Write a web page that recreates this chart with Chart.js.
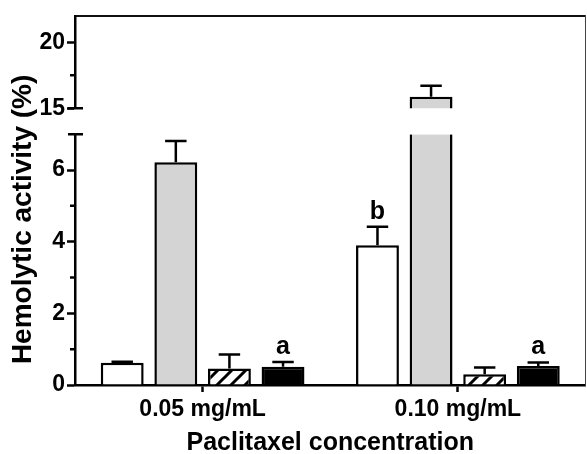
<!DOCTYPE html>
<html>
<head>
<meta charset="utf-8">
<script src="https://cdn.jsdelivr.net/npm/chart.js@4.4.1/dist/chart.umd.min.js"></script>
<style>
  html, body { margin: 0; padding: 0; background: #fff; }
  #wrap { width: 587px; height: 454px; }
</style>
</head>
<body>
<div id="wrap"><canvas id="hemolysis"></canvas></div>
<script>
// data
const categories = ['0.05 mg/mL', '0.10 mg/mL'];
const seriesNames = ['Group 1', 'Group 2', 'Group 3', 'Group 4'];
const whiteVals = [0.62, 3.90];
const whiteErr = [0.03, 0.52];
const grayVals = [6.22, 15.87];
const grayErr = [0.59, 0.83];
const hatchVals = [0.46, 0.30];
const hatchErr = [0.39, 0.19];
const blackVals = [0.51, 0.53];
const blackErr = [0.13, 0.10];
const whiteLetters = ['', 'b'];
const blackLetters = ['a', 'a'];

// broken y axis
const lowRange = [0, 7];
const highRange = [15, 22];
const lowTicks = [0, 2, 4, 6];
const highTicks = [15, 20];
const lowMinor = [1, 3, 5];
const highMinor = [17.5];

const FONT = "'Liberation Sans', Arial, sans-serif";
Chart.defaults.font.family = FONT;
Chart.defaults.color = '#000';

function hatchPattern() {
    const c = document.createElement('canvas');
    c.width = 14; c.height = 14;
    const g = c.getContext('2d');
    g.fillStyle = '#fff';
    g.fillRect(0, 0, 14, 14);
    g.strokeStyle = '#000';
    g.lineWidth = 3;
    g.beginPath();
    g.moveTo(0, 14); g.lineTo(14, 0);
    g.moveTo(-2, 2); g.lineTo(2, -2);
    g.moveTo(12, 16); g.lineTo(16, 12);
    g.stroke();
    return g.createPattern(c, 'repeat');
}

const lowGray = grayVals.map(v => Math.min(v, lowRange[1]));
const highGray = grayVals.map(v => v > highRange[0] ? v : null);
const grayCut = grayVals.map(v => v > lowRange[1]);

const errorBars = {
    id: 'errorBars',
    afterDatasetsDraw(chart) {
        const ctx = chart.ctx;
        ctx.save();
        ctx.strokeStyle = '#000';
        ctx.lineWidth = 2.5;
        chart.data.datasets.forEach((ds, i) => {
            const meta = chart.getDatasetMeta(i);
            const ys = chart.scales[meta.yAxisID];
            meta.data.forEach((bar, j) => {
                const v = ds.data[j];
                if (v == null || !ds.errors) return;
                if (ds.cut && ds.cut[j]) return;
                const top = ys.getPixelForValue(v + ds.errors[j]);
                const half = bar.width * 0.25;
                ctx.beginPath();
                ctx.moveTo(bar.x, bar.y);
                ctx.lineTo(bar.x, top);
                ctx.moveTo(bar.x - half, top);
                ctx.lineTo(bar.x + half, top);
                ctx.stroke();
                if (ds.letters && ds.letters[j]) {
                    ctx.fillStyle = '#000';
                    ctx.font = 'bold 25px ' + FONT;
                    ctx.textAlign = 'center';
                    ctx.textBaseline = 'alphabetic';
                    ctx.fillText(ds.letters[j], bar.x, top - 8);
                }
            });
        });
        ctx.restore();
    }
};

// minor ticks, break caps and the y title
const axisExtras = {
    id: 'axisExtras',
    afterDraw(chart) {
        const ctx = chart.ctx;
        const x0 = chart.chartArea.left;
        const lo = chart.scales.yLow, hi = chart.scales.yHigh;
        ctx.save();
        ctx.strokeStyle = '#000';
        ctx.lineWidth = 2.5;
        ctx.beginPath();
        lowMinor.forEach(v => { const y = lo.getPixelForValue(v); ctx.moveTo(x0 - 5, y); ctx.lineTo(x0, y); });
        highMinor.forEach(v => { const y = hi.getPixelForValue(v); ctx.moveTo(x0 - 5, y); ctx.lineTo(x0, y); });
        [lo.getPixelForValue(lowRange[1]), hi.getPixelForValue(highRange[0])].forEach(y => {
            ctx.moveTo(x0 - 7, y); ctx.lineTo(x0 + 8, y);
        });
        ctx.stroke();
        ctx.translate(23, (chart.chartArea.top + chart.chartArea.bottom) / 2 + 19);
        ctx.rotate(-Math.PI / 2);
        ctx.font = 'bold 28px ' + FONT;
        ctx.fillStyle = '#000';
        ctx.textAlign = 'center';
        ctx.textBaseline = 'middle';
        ctx.fillText('Hemolytic activity (%)', 0, 0);
        ctx.restore();
    }
};

const BW = 2.5;
const barBase = { borderColor: '#000', borderWidth: BW, yAxisID: 'yLow' };
const yTickFont = { size: 23, weight: 'bold' };

new Chart(document.getElementById('hemolysis'), {
    type: 'bar',
    data: {
        labels: categories,
        datasets: [
            { ...barBase, label: seriesNames[0], stack: 's0', data: whiteVals, backgroundColor: '#fff', errors: whiteErr, letters: whiteLetters },
            { ...barBase, label: seriesNames[1], stack: 's1', data: lowGray, backgroundColor: '#d4d4d4', errors: grayErr,
              cut: grayCut,
              borderWidth: c => grayCut[c.dataIndex] ? { top: 0, bottom: 0, left: BW, right: BW } : BW },
            { ...barBase, label: seriesNames[1], stack: 's1', data: highGray, backgroundColor: '#d4d4d4', errors: grayErr,
              yAxisID: 'yHigh', borderSkipped: 'bottom' },
            { ...barBase, label: seriesNames[2], stack: 's2', data: hatchVals, backgroundColor: hatchPattern(), errors: hatchErr },
            { ...barBase, label: seriesNames[3], stack: 's3', data: blackVals, backgroundColor: '#000', errors: blackErr, letters: blackLetters }
        ]
    },
    options: {
        responsive: true,
        maintainAspectRatio: false,
        animation: false,
        categoryPercentage: 0.84,
        barPercentage: 0.8,
        layout: { padding: { top: 14, right: 1.5, bottom: 0, left: 0 } },
        plugins: { legend: { display: false }, tooltip: { enabled: false } },
        scales: {
            x: {
                position: 'bottom',
                grid: { offset: false, drawOnChartArea: false, tickLength: 7, tickWidth: 2.5, tickColor: '#000' },
                border: { color: '#000', width: 2.5 },
                ticks: { font: yTickFont, padding: 4, color: '#000' },
                title: { display: true, text: 'Paclitaxel concentration', font: { size: 25, weight: 'bold', lineHeight: '22px' }, padding: 0, color: '#000' },
                afterFit: s => { s.height = 69; }
            },
            xTop: {
                type: 'linear', position: 'top',
                ticks: { display: false }, grid: { display: false },
                border: { color: '#111', width: 2 },
                afterFit: s => { s.height = 0; }
            },
            yHigh: {
                type: 'linear', position: 'left', stack: 'left', stackWeight: 93, weight: 3,
                min: highRange[0], max: highRange[1],
                afterBuildTicks: s => { s.ticks = highTicks.map(v => ({ value: v })); },
                grid: { drawOnChartArea: false, tickLength: 8, tickWidth: 2.5, tickColor: '#000' },
                border: { color: '#000', width: 2.5 },
                ticks: { font: yTickFont, padding: 2, color: '#000' },
                afterFit: s => { s.width = 75; }
            },
            yGap: {
                type: 'linear', position: 'left', stack: 'left', stackWeight: 26, weight: 2,
                ticks: { display: false }, grid: { display: false }, border: { display: false },
                afterFit: s => { s.width = 75; }
            },
            yLow: {
                type: 'linear', position: 'left', stack: 'left', stackWeight: 252, weight: 1,
                min: lowRange[0], max: lowRange[1],
                afterBuildTicks: s => { s.ticks = lowTicks.map(v => ({ value: v })); },
                grid: { drawOnChartArea: false, tickLength: 8, tickWidth: 2.5, tickColor: '#000' },
                border: { color: '#000', width: 2.5 },
                ticks: { font: yTickFont, padding: 2, color: '#000' },
                afterFit: s => { s.width = 75; }
            },
            yRight: {
                type: 'linear', position: 'right',
                ticks: { display: false }, grid: { display: false },
                border: { color: '#444', width: 1 },
                afterFit: s => { s.width = 0; }
            }
        }
    },
    plugins: [errorBars, axisExtras]
});
</script>
</body>
</html>
